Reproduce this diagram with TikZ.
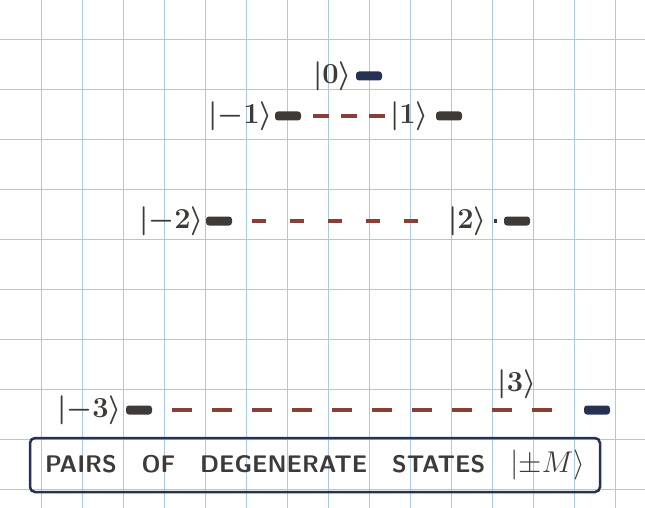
\RequirePackage{fix-cm}
\documentclass[tikz,border=0pt]{standalone}
\usepackage{amsmath}
\usepackage{amssymb}
\usetikzlibrary{positioning}
\definecolor{gridblue}{RGB}{170,202,224}
\definecolor{ink}{RGB}{62,58,55}
\definecolor{navy}{RGB}{38,50,84}
\definecolor{rust}{RGB}{138,62,56}
\tikzset{
	level/.style={
		rectangle, fill=ink, minimum width=26pt, minimum height=9pt,
		inner sep=0pt, rounded corners=3pt
	},
	ket/.style={
		text=ink, inner sep=1pt,
		font=\fontsize{29}{32}\selectfont\boldmath
	},
}

\begin{document}
\begin{tikzpicture}[x=1pt,y=-1pt,
		gap/.style={rust, line width=3.5pt},
		ruling/.style={gridblue, line width=0.9pt}]
	\useasboundingbox (0,0) rectangle (645,508);
	\foreach \i in {1,...,15} \draw[ruling] (41*\i,0) -- (41*\i,508);
	\foreach \j in {0,...,9} \draw[ruling] (0,39+50*\j) -- (645,39+50*\j);
	\node[level, fill=navy] (z)  at (369,76) {};
	\node[ket, left=3pt of z] (zlab) {$|0\rangle$};
	\node[level]  (m1) at (288,116) {};
	\node[ket, left=1pt of m1] (m1lab) {$|{-1}\rangle$};
	\node[level]  (p1) at (449,116) {};
	\node[ket, left=6pt of p1] (p1lab) {$|1\rangle$};
	\node[level]  (m2) at (219,221) {};
	\node[ket, left=1pt of m2] (m2lab) {$|{-2}\rangle$};
	\node[level]  (p2) at (517,221) {};
	\node[ket, left=16pt of p2] (p2lab) {$|2\rangle$};
	\node[level]  (m3) at (139,410) {};
	\node[ket, left=3pt of m3] (m3lab) {$|{-3}\rangle$};
	\node[level, fill=navy] (p3) at (597,410) {};
	\node[ket] (p3lab) at (517,384) {$|3\rangle$};
	\draw[gap, dash pattern=on 16pt off 12pt, dash phase=16pt] (m1) -- (p1lab);
	\draw[gap, dash pattern=on 14pt off 24pt, dash phase=18pt, shorten >=8pt] (m2) -- (p2lab);
	\draw[ink, line width=3.5pt] (p2lab.east) ++(6,0) -- ++(3,0);
	\draw[gap, dash pattern=on 20pt off 20pt, dash phase=20pt, shorten >=26pt] (m3) -- (p3);
	\node[draw=navy, line width=2.5pt, rounded corners=5pt, text=ink,
		minimum width=570pt, minimum height=54pt,
		font=\fontsize{24}{28}\selectfont\sffamily\bfseries] (pairs) at (315,465)
		{\makebox[540pt]{PAIRS\hfill OF\hfill DEGENERATE\hfill STATES\hfill
		\fontsize{30}{32}\selectfont$|{\pm}M\rangle$}};
\end{tikzpicture}
\end{document}
